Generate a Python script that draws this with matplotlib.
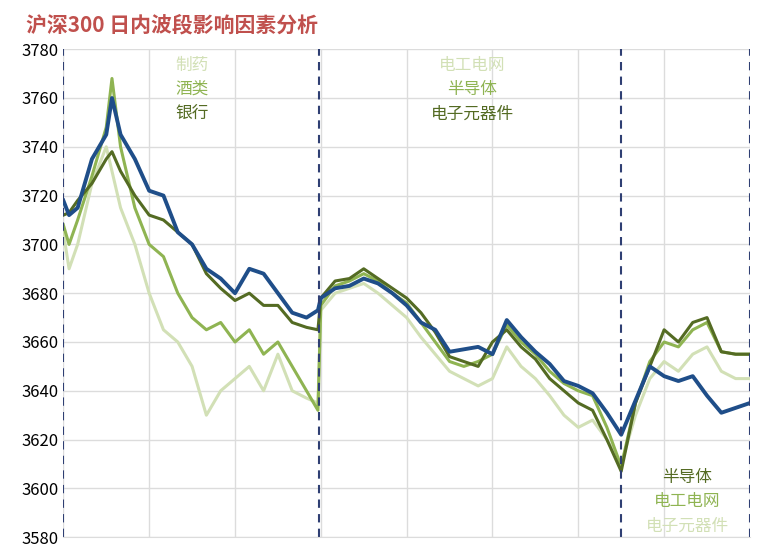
import matplotlib
matplotlib.use("Agg")
import matplotlib.pyplot as plt

plt.rcParams['font.family'] = ['Noto Sans CJK SC', 'DejaVu Sans']

minutes = [0, 2, 5, 10, 15, 17, 20, 25, 30, 35, 40, 45, 50, 55, 60, 65, 70, 75, 80, 85, 89,
           90, 95, 100, 105, 110, 115, 120, 125, 130, 135, 140, 145, 150, 155, 160, 165, 170,
           175, 180, 185, 190, 195, 200, 205, 210, 215, 220, 225, 230, 235, 240]
index_hs300 = [3718, 3712, 3715, 3735, 3745, 3760, 3745, 3735, 3722, 3720, 3705, 3700, 3690, 3686,
               3680, 3690, 3688, 3680, 3672, 3670, 3673,
               3678, 3682, 3683, 3686, 3684, 3680, 3675, 3668, 3665, 3656, 3657, 3658, 3655, 3669,
               3662, 3656, 3651, 3644, 3642, 3639, 3631, 3622, 3636, 3650, 3646, 3644, 3646, 3638,
               3631, 3633, 3635]
dark_series = [3712, 3713, 3718, 3725, 3735, 3738, 3730, 3720, 3712, 3710, 3705, 3700, 3688, 3682,
               3677, 3680, 3675, 3675, 3668, 3666, 3665,
               3678, 3685, 3686, 3690, 3686, 3682, 3678, 3672, 3664, 3654, 3652, 3650, 3660, 3665,
               3658, 3653, 3645, 3640, 3635, 3632, 3620, 3607, 3635, 3650, 3665, 3660, 3668, 3670,
               3656, 3655, 3655]
mid_series = [3708, 3700, 3710, 3728, 3748, 3768, 3740, 3715, 3700, 3695, 3680, 3670, 3665, 3668,
              3660, 3665, 3655, 3660, 3650, 3640, 3632,
              3675, 3683, 3685, 3688, 3685, 3680, 3676, 3668, 3660, 3652, 3650, 3652, 3655, 3667,
              3660, 3655, 3648, 3643, 3640, 3638, 3625, 3609, 3635, 3652, 3660, 3658, 3665, 3668,
              3656, 3655, 3655]
light_series = [3705, 3690, 3700, 3725, 3740, 3730, 3715, 3700, 3680, 3665, 3660, 3650, 3630, 3640,
                3645, 3650, 3640, 3655, 3640, 3637, 3635,
                3673, 3680, 3682, 3684, 3680, 3675, 3670, 3662, 3655, 3648, 3645, 3642, 3645, 3658,
                3650, 3645, 3638, 3630, 3625, 3628, 3620, 3610, 3630, 3645, 3652, 3648, 3655, 3658,
                3648, 3645, 3645]
boundaries = [0, 89.5, 195, 240]

c_blue = '#1f4e89'
c_dark = '#546b23'
c_mid = '#8fb452'
c_light = '#d2e0b6'

fig = plt.figure(figsize=(7.82, 5.59), dpi=100)
ax = fig.add_axes([0.081, 0.039, 0.878, 0.873])
ax.plot(minutes, light_series, color=c_light, lw=2.2)
ax.plot(minutes, mid_series, color=c_mid, lw=2.2)
ax.plot(minutes, dark_series, color=c_dark, lw=2.2)
ax.plot(minutes, index_hs300, color=c_blue, lw=2.8)
for b in boundaries:
    ax.axvline(b, color='#2f3f73', ls=(0, (4, 3)), lw=1.5)
ax.set_xlim(0, 240)
ax.set_ylim(3580, 3780)
ax.set_yticks(range(3580, 3781, 20))
ax.set_xticks(range(0, 241, 30))
ax.set_xticklabels([])
ax.tick_params(length=0, labelsize=12)
ax.grid(True, color='#dcdcdc', lw=1)
for s in ax.spines.values():
    s.set_visible(False)
ax.spines['bottom'].set_visible(True)
ax.spines['bottom'].set_color('#dcdcdc')

kw = dict(fontsize=12, ha='center', va='top')
ax.text(45, 3777, '制药', color=c_light, **kw)
ax.text(45, 3767, '酒类', color=c_mid, **kw)
ax.text(45, 3757, '银行', color=c_dark, **kw)
ax.text(143, 3777, '电工电网', color=c_light, **kw)
ax.text(143, 3767, '半导体', color=c_mid, **kw)
ax.text(143, 3757, '电子元器件', color=c_dark, **kw)
ax.text(218, 3608, '半导体', color=c_dark, **kw)
ax.text(218, 3598, '电工电网', color=c_mid, **kw)
ax.text(218, 3588, '电子元器件', color=c_light, **kw)

fig.text(0.033, 0.955, '沪深300 日内波段影响因素分析', color='#c0504d', fontsize=15,
         fontweight='bold', va='center', ha='left')
fig.savefig('out.png', dpi=100)
